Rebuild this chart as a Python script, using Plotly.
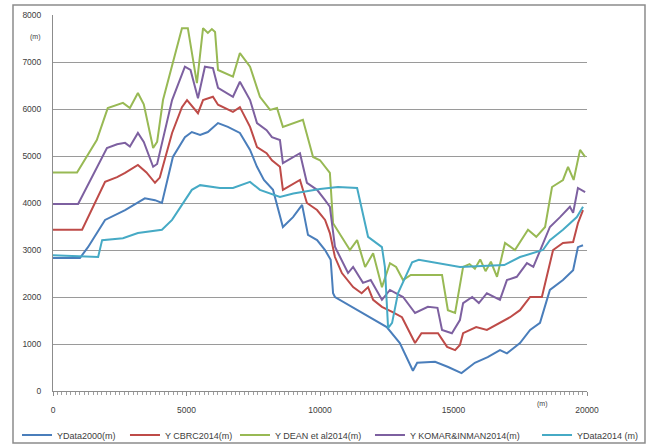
import plotly.graph_objects as go

# Shoreline position along the coast (m) for five datasets / models
x_data2000 = [0, 1010, 1310, 1950, 2700, 3440, 3820, 4080, 4490, 4940, 5200, 5510, 5800, 6180, 6550,
              7000, 7380, 7640, 7900, 8240, 8610, 8990, 9330, 9550, 9890, 10190, 10400, 10490, 10560,
              12500, 12990, 13480, 13640, 14310, 14800, 15300, 15800, 16280, 16740, 17000, 17490,
              17870, 18240, 18610, 19100, 19480, 19660, 19850]
y_data2000 = [2830, 2830, 3060, 3640, 3850, 4100, 4060, 4000, 4980, 5400, 5510, 5450, 5510, 5700, 5620,
              5490, 5130, 4770, 4490, 4280, 3490, 3700, 3960, 3320, 3210, 3000, 2790, 2080, 2000,
              1360, 1020, 430, 600, 620, 510, 380, 600, 720, 870, 800, 1020,
              1300, 1450, 2150, 2360, 2570, 3060, 3100]

x_cbrc = [0, 1090, 1950, 2400, 2700, 3180, 3500, 3820, 4000, 4460, 4830, 5020, 5430, 5620, 5990, 6180,
          6740, 7000, 7380, 7640, 8000, 8200, 8500, 8610, 9250, 9510, 9890, 10190, 10370, 10560, 10820,
          11240, 11560, 11800, 11990, 12320, 12720, 13070, 13560, 13800, 14420, 14760, 15060, 15240,
          15360, 15850, 16250, 16740, 17120, 17490, 17870, 18310, 18730, 19100, 19480, 19660, 19850]
y_cbrc = [3430, 3430, 4450, 4550, 4640, 4810, 4650, 4430, 4540, 5490, 6040, 6190, 5910, 6190, 6260, 6090,
          5940, 6040, 5620, 5190, 5060, 4910, 4770, 4280, 4490, 4000, 3850, 3640, 3360, 2850, 2510,
          2210, 2080, 2210, 1940, 1790, 1680, 1570, 1020, 1230, 1230, 940, 870, 980,
          1230, 1360, 1300, 1450, 1570, 1720, 2000, 2000, 3000, 3150, 3170, 3570, 3850]

x_dean = [0, 900, 1640, 2050, 2620, 2880, 3180, 3400, 3750, 3900, 4120, 4490, 4830, 5050, 5390, 5620,
          5800, 5950, 6070, 6180, 6740, 7000, 7380, 7750, 8130, 8390, 8610, 9360, 9740, 10000, 10370,
          10490, 10800, 11120, 11390, 11690, 11990, 12320, 12620, 12850, 13110, 13400, 14570, 14790,
          15060, 15360, 15600, 15800, 16000, 16200, 16400, 16630, 16930, 17300, 17790, 18100, 18430,
          18690, 19100, 19290, 19500, 19740, 19930]
y_dean = [4650, 4650, 5340, 6020, 6130, 6020, 6340, 6100, 5170, 5300, 6190, 6980, 7720, 7720, 6550, 7720,
          7620, 7700, 7640, 6830, 6690, 7190, 6900, 6260, 5980, 6020, 5620, 5770, 4980, 4910, 4640,
          3570, 3300, 3000, 3210, 2640, 2930, 2210, 2720, 2640, 2360, 2470, 2470, 1720,
          1660, 2640, 2700, 2600, 2800, 2550, 2750, 2430, 3150, 3000, 3430, 3280, 3490,
          4340, 4490, 4770, 4490, 5130, 4980]

x_komar = [0, 940, 2020, 2400, 2700, 2880, 3180, 3400, 3750, 3900, 4460, 4940, 5150, 5430, 5690, 5990,
           6180, 6740, 7000, 7380, 7640, 8000, 8200, 8500, 8610, 9250, 9510, 9890, 10190, 10370, 10560,
           11050, 11240, 11610, 11900, 12320, 12620, 13110, 13560, 14040, 14400, 14570, 14940, 15240,
           15360, 15700, 15950, 16250, 16740, 17000, 17370, 17750, 17990, 18240, 18610, 18990, 19360,
           19480, 19660, 19930]
y_komar = [3980, 3980, 5170, 5250, 5280, 5200, 5490, 5300, 4770, 4830, 6190, 6900, 6830, 6230, 6900, 6870,
           6450, 6260, 6580, 6190, 5700, 5550, 5400, 5340, 4850, 5060, 4430, 4280, 4060, 3920, 3070,
           2510, 2640, 2300, 2360, 1940, 2150, 2000, 1660, 1790, 1770, 1300, 1230, 1510,
           1870, 2000, 1870, 2080, 1940, 2360, 2430, 2720, 2640, 3000, 3490, 3700, 3920,
           3790, 4320, 4230]

x_data2014 = [0, 1100, 1690, 1840, 2620, 3180, 4080, 4460, 4940, 5200, 5510, 6250, 6740, 7380, 7750,
              8130, 8500, 9000, 9500, 10000, 10670, 11390, 11800, 12320, 12430, 12500, 12550, 12700,
              12920, 13450, 13700, 15240, 16900, 17490, 18350, 18610, 19100, 19620, 19850]
y_data2014 = [2890, 2870, 2850, 3210, 3250, 3360, 3430, 3640, 4060, 4280, 4380, 4320, 4320, 4450, 4280,
              4210, 4130, 4200, 4250, 4300, 4340, 4320, 3280, 3060, 2640, 1940, 1340, 1450,
              2080, 2740, 2790, 2640, 2680, 2850, 3000, 3210, 3430, 3700, 3920]

series = [
    ("YData2000(m)", x_data2000, y_data2000, "#4A7EBB"),
    ("Y CBRC2014(m)", x_cbrc, y_cbrc, "#BE4B48"),
    ("Y DEAN et al2014(m)", x_dean, y_dean, "#98B954"),
    ("Y KOMAR&INMAN2014(m)", x_komar, y_komar, "#7D60A0"),
    ("YData2014 (m)", x_data2014, y_data2014, "#46AAC5"),
]

x_ticks = [0, 5000, 10000, 15000, 20000]
y_ticks = [0, 1000, 2000, 3000, 4000, 5000, 6000, 7000, 8000]

# each legend entry gets its own legend box so the row is spread like the original sheet
legend_x = [-0.0674, 0.1348, 0.3408, 0.5936, 0.9064]
legend_ids = ["legend", "legend2", "legend3", "legend4", "legend5"]

fig = go.Figure()
for (name, xs, ys, color), lid in zip(series, legend_ids):
    fig.add_trace(go.Scatter(x=xs, y=ys, mode="lines", name=name, legend=lid,
                             line=dict(color=color, width=2)))

font = dict(family="Liberation Sans, Arial, sans-serif", size=8.5, color="#404040")
legend_style = dict(orientation="h", xanchor="left", y=-0.117, yanchor="middle",
                    font=dict(size=9, color="#404040"), itemwidth=30,
                    bgcolor="rgba(0,0,0,0)")

fig.update_layout(
    width=649, height=445,
    margin=dict(l=53, r=62, t=15, b=54, autoexpand=False),
    paper_bgcolor="white", plot_bgcolor="white",
    font=font,
    showlegend=True,
    xaxis=dict(range=[0, 20000], tickvals=x_ticks, ticktext=[str(v) for v in x_ticks],
               showgrid=False, zeroline=False, showline=True, linecolor="#8c8c8c", linewidth=1,
               ticks="outside", ticklen=4, tickcolor="#8c8c8c",
               minor=dict(dtick=5000 / 30, ticks="outside", ticklen=3, tickcolor="#a0a0a0"),
               ticklabelstandoff=7),
    yaxis=dict(range=[0, 8000], tickvals=y_ticks, showgrid=True, gridcolor="#9a9a9a", gridwidth=1,
               zeroline=False, showline=True, linecolor="#8c8c8c", linewidth=1,
               ticks="", ticklabelstandoff=9),
    shapes=[dict(type="rect", xref="paper", yref="paper", x0=-0.0749, x1=1.1086, y0=-0.1383, y1=1.0266,
                 line=dict(color="#8c8c8c", width=1.5), fillcolor="rgba(0,0,0,0)", layer="below")],
    annotations=[
        dict(text="(m)", xref="paper", yref="paper", x=-0.047, y=0.957, showarrow=False,
             font=dict(size=7, color="#404040")),
        dict(text="(m)", xref="paper", yref="paper", x=0.93, y=-0.05, showarrow=False,
             font=dict(size=7, color="#404040")),
    ],
)
for lid, lx in zip(legend_ids, legend_x):
    fig.update_layout({lid: dict(legend_style, x=lx)})

fig.write_html("out.html")
